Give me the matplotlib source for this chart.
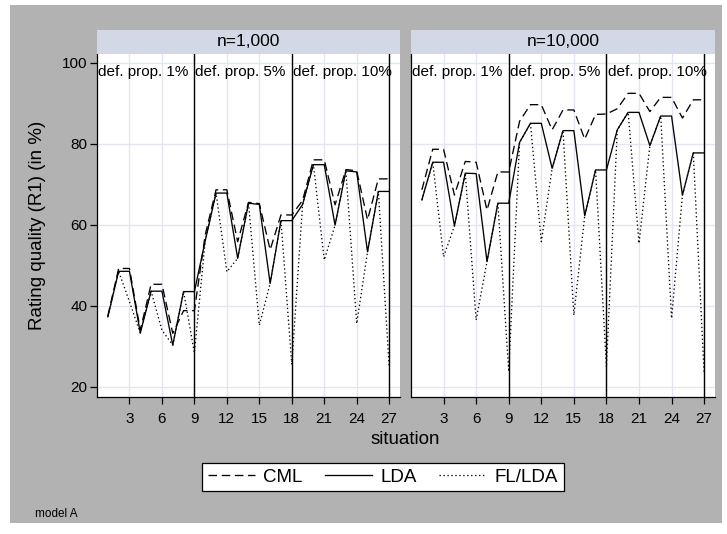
import matplotlib
matplotlib.use("Agg")
import matplotlib.pyplot as plt
from matplotlib.patches import Rectangle
from matplotlib.lines import Line2D

plt.rcParams['font.family'] = ['Liberation Sans', 'DejaVu Sans']

# Situations 1..27: three default-proportion blocks of nine situations each
situations = [1, 2, 3, 4, 5, 6, 7, 8, 9,
              10, 11, 12, 13, 14, 15, 16, 17, 18,
              19, 20, 21, 22, 23, 24, 25, 26, 27]
block_labels = ["def. prop. 1%", "def. prop. 5%", "def. prop. 10%"]
block_starts = [0, 9, 18]
block_bounds = [9, 18, 27]
panel_titles = ["n=1,000", "n=10,000"]
x_ticks = [3, 6, 9, 12, 15, 18, 21, 24, 27]
y_ticks = [20, 40, 60, 80, 100]

# Rating quality (R1) in %, sample size n=1,000
n1000_cml = [37.5, 49.2, 49.2, 34.0, 45.3, 45.3, 33.2, 38.8, 38.8,
             57.5, 68.6, 68.6, 55.8, 65.5, 65.2, 53.8, 62.4, 62.4,
             66.0, 76.0, 76.0, 64.9, 73.6, 73.3, 61.2, 71.3, 71.3]
n1000_lda = [37.3, 48.5, 48.5, 33.3, 43.6, 43.6, 30.3, 43.5, 43.5,
             56.0, 67.8, 67.8, 51.7, 65.3, 65.0, 45.5, 61.0, 61.0,
             65.0, 74.8, 74.8, 59.9, 73.3, 73.0, 53.3, 68.2, 68.2]
n1000_fl = [37.3, 48.5, 41.0, 33.3, 43.6, 34.0, 30.3, 43.5, 28.4,
            56.0, 67.8, 48.4, 51.7, 65.3, 35.2, 45.5, 61.0, 25.5,
            65.0, 74.8, 51.3, 59.9, 73.3, 35.6, 53.3, 68.2, 24.9]

# Rating quality (R1) in %, sample size n=10,000
n10000_cml = [68.6, 78.6, 78.6, 67.3, 75.6, 75.4, 63.6, 73.0, 73.0,
              85.5, 89.6, 89.6, 83.4, 88.3, 88.3, 81.1, 87.2, 87.3,
              88.6, 92.4, 92.4, 87.9, 91.4, 91.4, 86.3, 90.8, 90.8]
n10000_lda = [66.1, 75.4, 75.4, 59.7, 72.7, 72.6, 50.9, 65.3, 65.3,
              80.3, 85.0, 85.0, 73.9, 83.2, 83.2, 62.2, 73.5, 73.5,
              83.4, 87.7, 87.7, 79.5, 86.8, 86.8, 67.3, 77.7, 77.7]
n10000_fl = [66.1, 75.4, 52.1, 59.7, 72.7, 36.5, 50.9, 65.3, 23.8,
             80.3, 85.0, 55.8, 73.9, 83.2, 37.7, 62.2, 73.5, 24.9,
             83.4, 87.7, 55.4, 79.5, 86.8, 36.9, 67.3, 77.7, 23.3]

series_names = ["CML", "LDA", "FL/LDA"]
panels = [(n1000_cml, n1000_lda, n1000_fl), (n10000_cml, n10000_lda, n10000_fl)]

W, H = 727, 534
fig = plt.figure(figsize=(W / 100, H / 100), dpi=100, facecolor="white")

# grey graph region behind everything
fig.patches.append(Rectangle((10 / W, 1 - 523 / H), 712 / W, 518 / H,
                             transform=fig.transFigure, facecolor="#b2b2b2",
                             edgecolor="none", zorder=-10))

grid_col = "#e3e6f2"
strip_col = "#d2d8e6"
line_kw = dict(color="black", lw=0.95)
styles = [(0, (6.5, 3.5)), "-", (0, (1, 2))]

ax_left = [97, 411]
ax_w = [303, 304]
top, bottom = 54, 397
for p, (cml, lda, fl) in enumerate(panels):
    ax = fig.add_axes([ax_left[p] / W, 1 - bottom / H, ax_w[p] / W, (bottom - top) / H])
    ax.set_zorder(1)
    ax.set_facecolor("white")
    ax.set_xlim(0, 28)
    ax.set_ylim(17.5, 102.1)
    for gx in x_ticks:
        ax.axvline(gx, color=grid_col, lw=1.0, zorder=0)
    for gy in y_ticks:
        ax.axhline(gy, color=grid_col, lw=1.0, zorder=0)
    for b in block_bounds:
        ax.axvline(b, color="black", lw=1.0, zorder=3)
    for vals, ls, name in zip((cml, lda, fl), styles, series_names):
        ax.plot(situations, vals, linestyle=ls, label=name, zorder=4, **line_kw)
    for s, lab in zip(block_starts, block_labels):
        ax.text(s + 0.1, 97.6, lab, ha="left", va="center", fontsize=11)
    for side in ["top", "right"]:
        ax.spines[side].set_visible(False)
    ax.spines["left"].set_linewidth(0.9)
    ax.spines["bottom"].set_linewidth(0.9)
    ax.set_xticks(x_ticks)
    ax.set_xticklabels([str(t) for t in x_ticks], fontsize=11)
    ax.tick_params(axis="x", length=5, width=0.9, pad=6)
    if p == 0:
        ax.set_yticks(y_ticks)
        ax.set_yticklabels([str(t) for t in y_ticks], fontsize=11)
        ax.tick_params(axis="y", length=5, width=0.9, pad=2)
    else:
        ax.set_yticks([])

    # panel title strip
    st = fig.add_axes([ax_left[p] / W, 1 - top / H, ax_w[p] / W, 24 / H])
    st.set_zorder(1)
    st.set_facecolor(strip_col)
    st.set_xticks([])
    st.set_yticks([])
    for sp in st.spines.values():
        sp.set_visible(False)
    st.text(0.5, 0.5, panel_titles[p], ha="center", va="center", fontsize=12.5,
            transform=st.transAxes)

fig.text(38 / W, 1 - 225 / H, "Rating quality (R1) (in %)", rotation=90,
         ha="center", va="center", fontsize=13.5)
fig.text(405 / W, 1 - 440 / H, "situation", ha="center", va="center", fontsize=13.5)
fig.text(35 / W, 1 - 514 / H, "model A", ha="left", va="center", fontsize=8.5)

handles = [Line2D([], [], linestyle=ls, **line_kw) for ls in styles]
leg = fig.legend(handles, series_names, loc="center", ncol=3,
                 bbox_to_anchor=(383 / W, 1 - 477 / H), fontsize=13.5,
                 frameon=True, fancybox=False, edgecolor="black",
                 facecolor="white", framealpha=1.0,
                 handlelength=2.5, handletextpad=0.45, columnspacing=1.2,
                 borderpad=0.3, borderaxespad=0)
leg.get_frame().set_linewidth(0.9)

fig.savefig("out.png", dpi=100, facecolor="white")
